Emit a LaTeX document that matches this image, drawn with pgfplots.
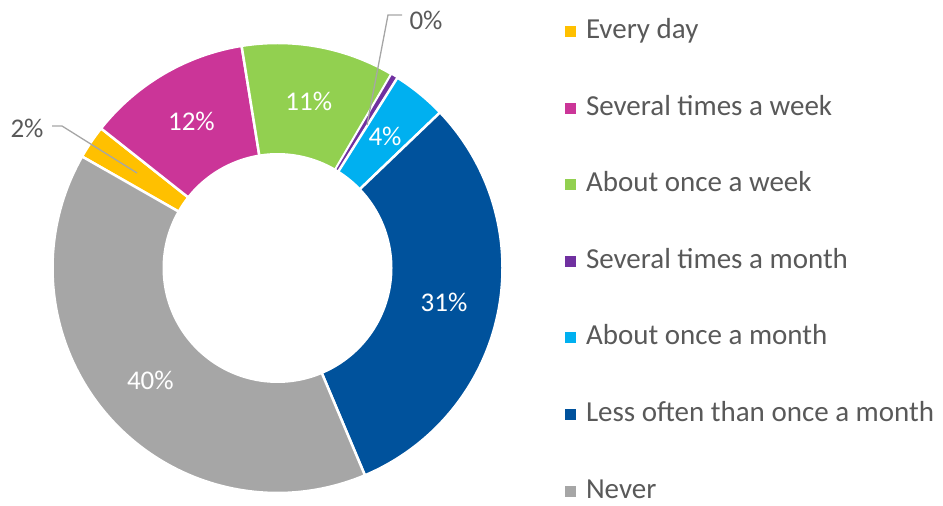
\documentclass[border=0pt]{standalone}
\usepackage{fontspec}
\setmainfont{Carlito}
\usepackage{pgfplots}
\pgfplotsset{compat=1.18}
\definecolor{cED}{HTML}{FFC000}
\definecolor{cSW}{HTML}{CB3598}
\definecolor{cAW}{HTML}{92D050}
\definecolor{cSM}{HTML}{7030A0}
\definecolor{cAM}{HTML}{00B0F0}
\definecolor{cLO}{HTML}{00529C}
\definecolor{cNV}{HTML}{A6A6A6}
\definecolor{txt}{HTML}{595959}
\definecolor{lead}{HTML}{A6A6A6}
\tikzset{lbl/.style={text=white, font=\fontsize{27bp}{32bp}\selectfont, inner sep=0pt, anchor=center},
  olbl/.style={text=txt, font=\fontsize{27bp}{32bp}\selectfont, inner sep=0pt, anchor=center}}
\begin{document}
\begin{tikzpicture}
\def\cx{277.5}\def\cy{238}\def\R{225}\def\ri{115}\def\rmid{170}
% shares in percent
\def\vA{2.4}\def\vB{11.8}\def\vC{11.0}\def\vD{0.5}\def\vE{3.9}\def\vF{30.8}\def\vG{39.6}
\pgfmathsetmacro\aA{150.3}
\pgfmathsetmacro\aB{\aA-3.6*\vA}
\pgfmathsetmacro\aC{\aB-3.6*\vB}
\pgfmathsetmacro\aD{\aC-3.6*\vC}
\pgfmathsetmacro\aE{\aD-3.6*\vD}
\pgfmathsetmacro\aF{\aE-3.6*\vE}
\pgfmathsetmacro\aG{\aF-3.6*\vF}
\pgfmathsetmacro\aH{\aG-3.6*\vG}
\pgfmathsetmacro\mB{(\aB+\aC)/2}
\pgfmathsetmacro\mC{(\aC+\aD)/2}
\pgfmathsetmacro\mE{(\aE+\aF)/2}
\pgfmathsetmacro\mF{(\aF+\aG)/2}
\pgfmathsetmacro\mG{(\aG+\aH)/2}
\useasboundingbox (0,0) rectangle (943bp,506bp);
\begin{axis}[
  scale only axis, width=943bp, height=506bp,
  xmin=0, xmax=943, ymin=0, ymax=506,
  hide axis, clip=false,
  legend cell align=left,
  legend style={at={(axis cs:565,487.5)}, anchor=north west, draw=none, fill=none,
    inner sep=0pt, outer sep=0pt, row sep=50.6bp, column sep=10bp,
    font=\fontsize{29bp}{34bp}\selectfont, text=txt,
    nodes={inner sep=0pt, text height=20bp, text depth=6bp}},
  legend image code/.code={\fill[#1, draw=none] (0bp,-5.5bp) rectangle (11bp,5.5bp);},
  every axis plot/.append style={draw=white, line width=2.5bp, samples=100, variable=\t},
]
\addplot[fill=cED, domain=\aB:\aA] ({\cx+\R*cos(\t)},{\cy+\R*sin(\t)}) -- (axis cs:\cx,\cy) -- cycle;
\addlegendentry{Every day}
\addplot[fill=cSW, domain=\aC:\aB] ({\cx+\R*cos(\t)},{\cy+\R*sin(\t)}) -- (axis cs:\cx,\cy) -- cycle;
\addlegendentry{Several times a week}
\addplot[fill=cAW, domain=\aD:\aC] ({\cx+\R*cos(\t)},{\cy+\R*sin(\t)}) -- (axis cs:\cx,\cy) -- cycle;
\addlegendentry{About once a week}
\addplot[fill=cSM, line width=1.5bp, domain=\aE:\aD] ({\cx+\R*cos(\t)},{\cy+\R*sin(\t)}) -- (axis cs:\cx,\cy) -- cycle;
\addlegendentry{Several times a month}
\addplot[fill=cAM, domain=\aF:\aE] ({\cx+\R*cos(\t)},{\cy+\R*sin(\t)}) -- (axis cs:\cx,\cy) -- cycle;
\addlegendentry{About once a month}
\addplot[fill=cLO, domain=\aG:\aF] ({\cx+\R*cos(\t)},{\cy+\R*sin(\t)}) -- (axis cs:\cx,\cy) -- cycle;
\addlegendentry{Less often than once a month}
\addplot[fill=cNV, domain=\aH:\aG] ({\cx+\R*cos(\t)},{\cy+\R*sin(\t)}) -- (axis cs:\cx,\cy) -- cycle;
\addlegendentry{Never}
\addplot[fill=white, draw=none, domain=0:360, samples=180, forget plot] ({\cx+\ri*cos(\t)},{\cy+\ri*sin(\t)}) -- cycle;
% data labels
\node[lbl] at (axis cs:{\cx+\rmid*cos(\mB)},{\cy+\rmid*sin(\mB)}) {12\%};
\node[lbl] at (axis cs:{\cx+\rmid*cos(\mC)},{\cy+\rmid*sin(\mC)}) {11\%};
\node[lbl] at (axis cs:{\cx+\rmid*cos(\mE)},{\cy+\rmid*sin(\mE)}) {4\%};
\node[lbl] at (axis cs:{\cx+\rmid*cos(\mF)},{\cy+\rmid*sin(\mF)}) {31\%};
\node[lbl] at (axis cs:{\cx+\rmid*cos(\mG)},{\cy+\rmid*sin(\mG)}) {40\%};
\draw[lead, line width=1.3bp] (axis cs:52,380) -- (axis cs:62,380) -- (axis cs:137,333);
\draw[lead, line width=1.3bp] (axis cs:402,491) -- (axis cs:388,491) -- (axis cs:367,381);
\node[olbl] at (axis cs:27,378) {2\%};
\node[olbl] at (axis cs:426,486) {0\%};
\end{axis}
\end{tikzpicture}
\end{document}
